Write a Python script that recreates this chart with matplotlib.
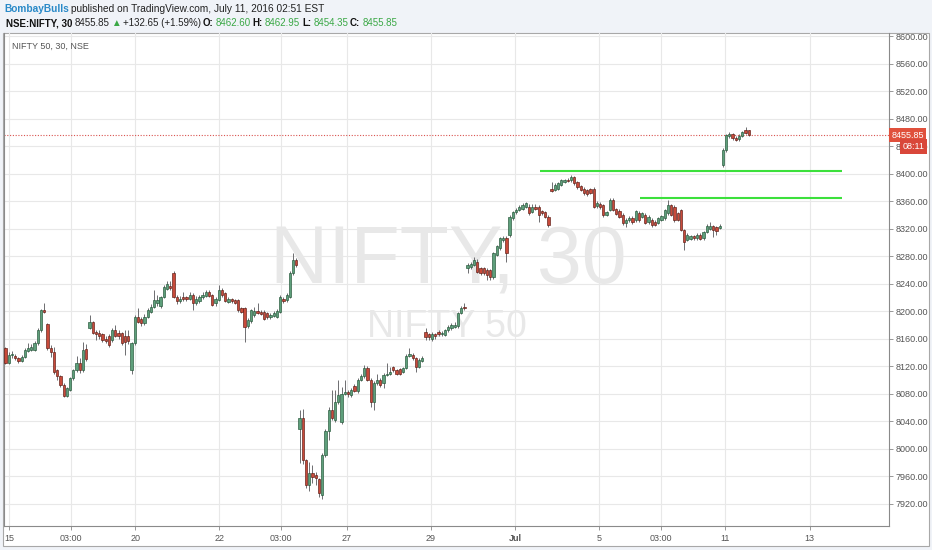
import numpy as np
import matplotlib
matplotlib.use('Agg')
import matplotlib.pyplot as plt
from matplotlib.patches import Rectangle


# 30 minute candles of NIFTY 50 (oldest first)
opens = [
    8146, 8125, 8136, 8134, 8131, 8128, 8133, 8142, 8144, 8144, 8153, 8173, 8201,
    8181, 8146, 8140, 8114, 8105, 8093, 8077, 8085, 8102, 8114, 8124, 8114, 8145,
    8176, 8184, 8170, 8168, 8166, 8160, 8164, 8158, 8173, 8168, 8168, 8163, 8163,
    8114, 8153, 8192, 8189, 8182, 8192,
    8199, 8206, 8212, 8207, 8221, 8232, 8236, 8256, 8221, 8214, 8220, 8220, 8218,
    8223, 8211, 8214, 8220, 8222, 8227, 8223, 8211, 8216, 8231, 8226, 8213, 8217,
    8216, 8216, 8204, 8204, 8178, 8185, 8194, 8200, 8199, 8199, 8197, 8191, 8193,
    8192, 8199, 8218, 8216, 8221, 8255, 8274,
    8028, 8044, 7983, 7947, 7964, 7961, 7955, 7932, 7991, 8025, 8056, 8041, 8068,
    8039, 8080, 8082, 8078, 8091, 8083, 8100, 8105, 8117, 8100, 8068, 8095, 8100,
    8095, 8107, 8109, 8118, 8114, 8115, 8112, 8117, 8135, 8136, 8131, 8119, 8128,
    8170, 8166, 8160, 8166, 8170, 8167, 8165, 8172, 8175, 8177, 8178, 8197, 8206,
    8262, 8264, 8267, 8272, 8262, 8262, 8260, 8259, 8250, 8282, 8291, 8303, 8306,
    8310, 8335, 8344, 8347, 8349, 8352, 8352, 8344, 8352, 8352, 8345, 8344, 8337,
    8378, 8376, 8378, 8384, 8388, 8391, 8390, 8395, 8387, 8382, 8378, 8376, 8377,
    8378, 8353,
    8356, 8354, 8340, 8347, 8362, 8348, 8346, 8340, 8328, 8333, 8336, 8332, 8343,
    8337, 8340, 8329, 8333, 8330, 8328, 8333, 8335, 8342, 8354, 8352, 8342, 8347,
    8318, 8304, 8305, 8309, 8306, 8311, 8306, 8315, 8320, 8323, 8322, 8321,
    8413, 8434, 8455, 8457, 8452, 8450, 8455, 8464, 8462.60,
]
highs = [
    8148, 8141, 8142, 8137, 8133, 8136, 8146, 8154, 8152, 8157, 8176, 8203, 8212,
    8183, 8151, 8147, 8116, 8107, 8095, 8090, 8104, 8116, 8134, 8132, 8155, 8152,
    8194, 8186, 8173, 8172, 8168, 8163, 8166, 8175, 8180, 8172, 8170, 8172, 8172,
    8155, 8194, 8204, 8192, 8196, 8204,
    8210, 8231, 8223, 8222, 8238, 8243, 8244, 8258, 8223, 8222, 8228, 8222, 8228,
    8226, 8222, 8224, 8227, 8230, 8230, 8225, 8220, 8238, 8233, 8228, 8220, 8219,
    8218, 8218, 8206, 8206, 8190, 8203, 8206, 8211, 8202, 8201, 8199, 8197, 8200,
    8203, 8224, 8220, 8226, 8258, 8285, 8277,
    8056, 8057, 7985, 7981, 7976, 7966, 7957, 7993, 8028, 8060, 8085, 8085, 8100,
    8090, 8100, 8085, 8088, 8094, 8103, 8108, 8122, 8120, 8102, 8098, 8108, 8103,
    8110, 8124, 8118, 8120, 8116, 8117, 8119, 8138, 8146, 8139, 8133, 8131, 8134,
    8175, 8168, 8170, 8168, 8173, 8171, 8174, 8179, 8182, 8184, 8199, 8207, 8212,
    8270, 8272, 8278, 8275, 8264, 8264, 8262, 8261, 8286, 8296, 8308, 8309, 8309,
    8339, 8346, 8350, 8354, 8357, 8358, 8355, 8356, 8355, 8354, 8347, 8346, 8339,
    8388, 8386, 8388, 8392, 8392, 8393, 8398, 8397, 8389, 8384, 8380, 8378, 8379,
    8380, 8360,
    8358, 8356, 8346, 8364, 8364, 8350, 8348, 8342, 8335, 8338, 8338, 8347, 8346,
    8344, 8342, 8340, 8335, 8332, 8337, 8340, 8349, 8362, 8356, 8354, 8344, 8349,
    8320, 8313, 8311, 8311, 8313, 8313, 8317, 8326, 8330, 8325, 8324, 8327,
    8437, 8458, 8461, 8459, 8454, 8457, 8462, 8467, 8462.95,
]
lows = [
    8123, 8123, 8132, 8129, 8125, 8126, 8131, 8140, 8142, 8142, 8151, 8170, 8197,
    8144, 8133, 8108, 8100, 8090, 8075, 8075, 8083, 8100, 8112, 8110, 8112, 8128,
    8174, 8166, 8158, 8160, 8155, 8154, 8147, 8155, 8162, 8160, 8150, 8136, 8152,
    8108, 8151, 8182, 8178, 8180, 8190,
    8197, 8204, 8208, 8205, 8219, 8230, 8231, 8219, 8210, 8212, 8214, 8215, 8216,
    8201, 8209, 8212, 8218, 8220, 8220, 8207, 8208, 8214, 8221, 8213, 8211, 8212,
    8210, 8199, 8197, 8155, 8175, 8183, 8192, 8195, 8194, 8187, 8188, 8188, 8191,
    8190, 8197, 8211, 8213, 8219, 8253, 8264,
    7979, 7978, 7942, 7938, 7950, 7947, 7930, 7927, 7988, 8012, 8041, 8038, 8065,
    8036, 8078, 8075, 8075, 8082, 8081, 8098, 8103, 8098, 8061, 8056, 8093, 8090,
    8088, 8105, 8107, 8112, 8107, 8107, 8110, 8115, 8133, 8129, 8111, 8117, 8126,
    8158, 8158, 8157, 8160, 8163, 8164, 8163, 8170, 8173, 8175, 8176, 8195, 8202,
    8255, 8261, 8265, 8255, 8252, 8252, 8245, 8245, 8247, 8280, 8289, 8301, 8272,
    8307, 8333, 8341, 8345, 8347, 8350, 8340, 8342, 8347, 8330, 8340, 8335, 8322,
    8373, 8374, 8376, 8382, 8386, 8387, 8388, 8384, 8378, 8374, 8369, 8368, 8370,
    8350, 8350,
    8349, 8337, 8338, 8345, 8345, 8339, 8335, 8325, 8322, 8330, 8326, 8330, 8330,
    8335, 8326, 8327, 8322, 8323, 8326, 8331, 8333, 8340, 8338, 8330, 8331, 8316,
    8289, 8302, 8303, 8304, 8304, 8303, 8304, 8313, 8318, 8308, 8310, 8319,
    8410, 8432, 8452, 8449, 8447, 8448, 8453, 8457, 8454.35,
]
closes = [
    8125, 8136, 8138, 8131, 8128, 8133, 8144, 8146, 8147, 8154, 8173, 8201, 8199,
    8146, 8140, 8112, 8105, 8093, 8077, 8088, 8102, 8114, 8124, 8114, 8143, 8130,
    8184, 8168, 8166, 8164, 8158, 8157, 8151, 8172, 8164, 8164, 8154, 8155, 8156,
    8153, 8192, 8184, 8182, 8192, 8201,
    8206, 8216, 8216, 8220, 8235, 8240, 8233, 8221, 8214, 8218, 8217, 8217, 8223,
    8211, 8218, 8221, 8223, 8227, 8222, 8209, 8217, 8231, 8223, 8215, 8218, 8214,
    8212, 8201, 8199, 8177, 8187, 8201, 8200, 8197, 8196, 8189, 8191, 8194, 8197,
    8200, 8221, 8214, 8223, 8255, 8274, 8267,
    8045, 7983, 7947, 7964, 7959, 7957, 7935, 7991, 8025, 8056, 8044, 8068, 8078,
    8080, 8082, 8080, 8085, 8084, 8100, 8105, 8117, 8100, 8068, 8095, 8100, 8092,
    8107, 8109, 8112, 8114, 8109, 8109, 8117, 8135, 8138, 8131, 8118, 8129, 8131,
    8162, 8162, 8166, 8163, 8166, 8168, 8172, 8177, 8180, 8180, 8197, 8204, 8204,
    8267, 8269, 8274, 8257, 8255, 8255, 8252, 8250, 8284, 8294, 8306, 8306, 8284,
    8337, 8344, 8347, 8352, 8354, 8357, 8342, 8352, 8349, 8340, 8342, 8337, 8325,
    8375, 8383, 8386, 8390, 8390, 8389, 8395, 8386, 8380, 8376, 8372, 8370, 8372,
    8352, 8357,
    8351, 8340, 8344, 8362, 8347, 8341, 8337, 8328, 8333, 8335, 8330, 8345, 8332,
    8342, 8328, 8337, 8325, 8325, 8335, 8338, 8347, 8354, 8340, 8333, 8333, 8318,
    8301, 8311, 8309, 8306, 8311, 8305, 8315, 8324, 8324, 8318, 8316, 8323,
    8434, 8456, 8458, 8451, 8449, 8455, 8460, 8459, 8455.85,
]

# bar positions of the date labels on the time axis
tick_pos = [1.05, 20.2, 40.1, 66.2, 85.3, 105.6, 131.6, 157.7, 183.8, 202.8, 222.7, 248.8]
tick_labels = ['15', '03:00', '20', '22', '03:00', '27', '29', 'Jul', '5', '03:00', '11', '13']
price_ticks = list(range(7920, 8601, 40))

# hand drawn horizontal levels: price, first bar, last bar
levels = [8403.7, 8365.0]
level_start = [165.4, 196.4]
level_end = [258.9, 258.9]

last_price = 8455.85
countdown = '08:11'

W, H = 932, 550
UP, UP_EDGE = '#5e9f7b', '#225437'
DOWN, DOWN_EDGE = '#c84a3a', '#5b1a13'
WICK = '#6d6d70'
GREEN_TXT = '#3aa845'

plt.rcParams['font.family'] = ['Liberation Sans', 'DejaVu Sans']


def fx(x):
    return x / W


def fy(y):
    return 1 - y / H


fig = plt.figure(figsize=(W / 100, H / 100), dpi=100)
fig.patch.set_facecolor('#f0f3f8')
renderer = fig.canvas.get_renderer()

# white chart panel
fig.add_artist(Rectangle((fx(3), fy(546)), (929 - 3) / W, (546 - 33) / H,
                         transform=fig.transFigure, facecolor='white',
                         edgecolor='#a8a8a8', lw=0.8, zorder=0))

ax = fig.add_axes([fx(4), fy(526), (889 - 4) / W, (526 - 33) / H])
ax.set_facecolor('none')
ax.set_axisbelow(True)

o = np.array(opens, dtype=float)
h = np.array(highs, dtype=float)
l = np.array(lows, dtype=float)
c = np.array(closes, dtype=float)
x = np.arange(len(o))
up = c >= o

ax.vlines(x, l, h, color=WICK, lw=0.7, zorder=2)
body = np.maximum(np.abs(c - o), 0.8)
ax.bar(x[up], body[up], bottom=o[up], width=0.7, color=UP,
       edgecolor=UP_EDGE, lw=0.45, zorder=3)
ax.bar(x[~up], body[~up], bottom=c[~up], width=0.7, color=DOWN,
       edgecolor=DOWN_EDGE, lw=0.45, zorder=3)

for lv, s, e in zip(levels, level_start, level_end):
    ax.hlines(lv, s, e, color='#3ce03c', lw=1.5, zorder=4)

ax.axhline(last_price, color='#d9534f', lw=0.8, ls=(0, (1, 1.5)), zorder=1.5)

ax.set_xlim(-0.46, 273.4)
ax.set_ylim(7887.3, 8604.4)

ax.grid(True, color='#e8e8e8', lw=0.8)
ax.set_xticks(tick_pos)
ax.set_xticklabels(tick_labels)
for lab in ax.get_xticklabels():
    if lab.get_text() == 'Jul':
        lab.set_fontweight('bold')
ax.yaxis.tick_right()
ax.set_yticks(price_ticks)
ax.set_yticklabels([f'{p:.2f}' for p in price_ticks])
ax.tick_params(axis='both', colors='#888888', labelcolor='#555555',
               labelsize=6.5, length=3, width=0.6)
ax.tick_params(axis='x', pad=3)
ax.tick_params(axis='y', pad=2)

for side in ['left', 'right', 'bottom']:
    ax.spines[side].set_color('#8a8a8a')
    ax.spines[side].set_linewidth(0.8)
ax.spines['top'].set_visible(False)

# watermark
ax.text(0.5018, 0.4909, 'NIFTY, 30', transform=ax.transAxes, fontsize=58,
        color='#e8e8e8', ha='center', va='baseline', zorder=1)
ax.text(0.5006, 0.3834, 'NIFTY 50', transform=ax.transAxes, fontsize=27,
        color='#e8e8e8', ha='center', va='baseline', zorder=1)

ax.text(0.009, 0.967, 'NIFTY 50, 30, NSE', transform=ax.transAxes,
        fontsize=6.5, color='#555555', ha='left', va='baseline')

# last price and countdown boxes on the price scale
yt = ax.get_yaxis_transform()
ax.text(1.0025, last_price, f'{last_price:.2f}', transform=yt, fontsize=6.5,
        color='white', ha='left', va='center', zorder=10, clip_on=False,
        bbox=dict(boxstyle='square,pad=0.3', fc='#e0503c', ec='none'))
ax.text(1.0155, 8439.3, countdown, transform=yt, fontsize=6.5,
        color='white', ha='left', va='center', zorder=10, clip_on=False,
        bbox=dict(boxstyle='square,pad=0.3', fc='#d9473a', ec='none'))


def header_line(pieces, base_y, size):
    # place the pieces at their spots, pushed right when one runs into the next
    prev_end = 0
    for px, txt, weight, col in pieces:
        x0 = max(px, prev_end + 2)
        t = fig.text(fx(x0), fy(base_y), txt, fontsize=size, fontweight=weight,
                     color=col, ha='left', va='baseline')
        prev_end = t.get_window_extent(renderer).x1


header1 = [
    (4, 'BombayBulls', 'bold', '#2a8ac8'),
    (66, 'published on TradingView.com, July 11, 2016 02:51 EST', 'normal', '#222222'),
]
header2 = [
    (6, 'NSE:NIFTY, 30', 'bold', '#111111'),
    (72, '8455.85', 'normal', '#222222'),
    (108, '\u25b2', 'normal', GREEN_TXT),
    (119, '+132.65 (+1.59%)', 'normal', '#222222'),
    (199, 'O:', 'bold', '#111111'),
    (211, '8462.60', 'normal', GREEN_TXT),
    (251, 'H:', 'bold', '#111111'),
    (261, '8462.95', 'normal', GREEN_TXT),
    (302, 'L:', 'bold', '#111111'),
    (309, '8454.35', 'normal', GREEN_TXT),
    (347, 'C:', 'bold', '#111111'),
    (356, '8455.85', 'normal', GREEN_TXT),
]
header_line(header1, 12.5, 7.3)
header_line(header2, 26.5, 7.0)

fig.savefig('out.png', dpi=100, facecolor=fig.get_facecolor())
